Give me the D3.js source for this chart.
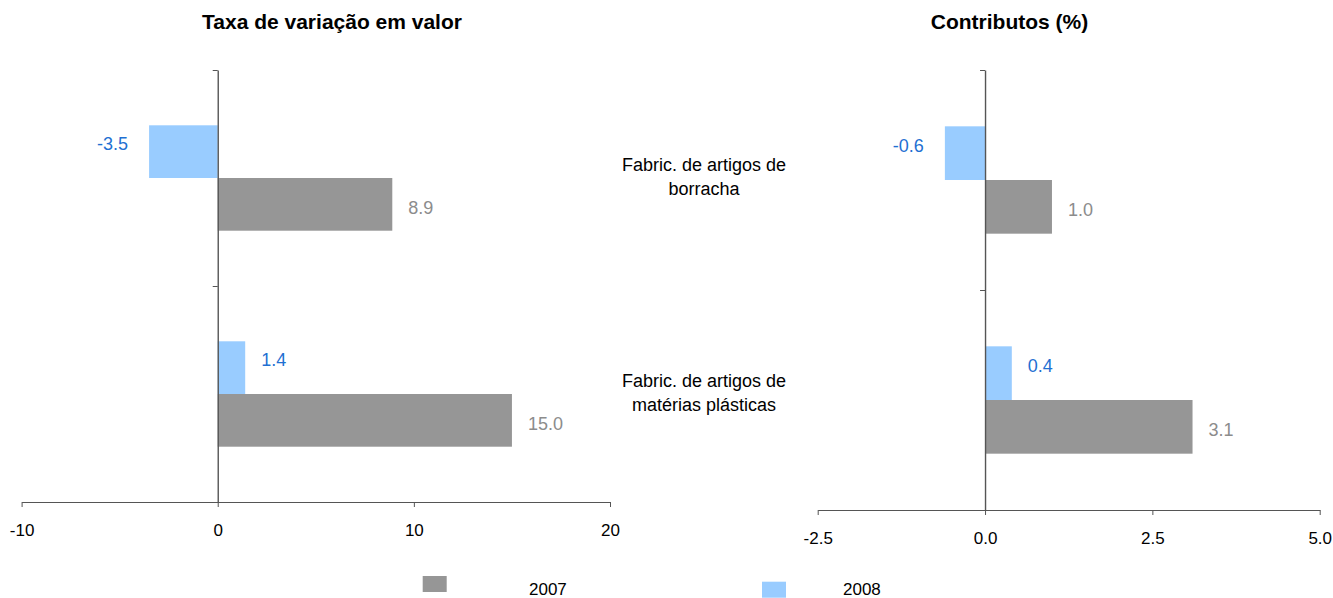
<!DOCTYPE html>
<html>
<head>
<meta charset="utf-8">
<script src="https://cdn.jsdelivr.net/npm/d3@7"></script>
<style>
  html, body { margin: 0; padding: 0; background: #fff; }
  svg { display: block; font-family: "Liberation Sans", Arial, sans-serif; }
</style>
</head>
<body>
<div id="chart"></div>
<script>
// Data
const categories = ['borracha', 'plasticas'];
const categoryLabels = [
  ['Fabric. de artigos de', 'borracha'],
  ['Fabric. de artigos de', 'matérias plásticas']
];
const seriesNames = ['2008', '2007'];
const variacao2007 = [8.9, 15.0];
const variacao2008 = [-3.5, 1.4];
const contributos2007 = [1.0, 3.1];
const contributos2008 = [-0.6, 0.4];
const variacaoTicks = [-10, 0, 10, 20];
const contributosTicks = [-2.5, 0, 2.5, 5];

const colors = { '2007': '#969696', '2008': '#99ccff' };
const labelColors = { '2007': '#8c8c8c', '2008': '#1f70d2' };

const width = 1333, height = 598;

// plain hyphen for negatives, like the original
const locale = d3.formatLocale({ decimal: '.', thousands: ',', grouping: [3], currency: ['', ''], minus: '-' });
const fmt1 = locale.format('.1f');
const fmt0 = locale.format('d');

const svg = d3.select('#chart')
  .append('svg')
  .attr('width', width)
  .attr('height', height);

function drawPanel(opts) {
  const { xDomain, xRange, yRange, ticks, tickFormat, values, title, titleX } = opts;

  const x = d3.scaleLinear().domain(xDomain).range(xRange);
  const y0 = d3.scaleBand().domain(categories).range(yRange).padding(0);
  const gap = y0.bandwidth() * 0.256;
  const y1 = d3.scaleBand().domain(seriesNames).range([gap, y0.bandwidth() - gap]);
  const yTicks = d3.scaleLinear().domain([0, categories.length]).range(yRange);

  const g = svg.append('g');

  // bars
  categories.forEach((cat, i) => {
    seriesNames.forEach(s => {
      const v = values[s][i];
      const yy = y0(cat) + y1(s);
      g.append('rect')
        .attr('x', x(Math.min(0, v)))
        .attr('y', yy)
        .attr('width', Math.abs(x(v) - x(0)))
        .attr('height', y1.bandwidth())
        .attr('fill', colors[s]);

      const off = s === '2008' ? -8 : 3;
      g.append('text')
        .attr('x', v < 0 ? x(v) - 21 : x(v) + 16)
        .attr('y', yy + y1.bandwidth() / 2 + off + 6.5)
        .attr('text-anchor', v < 0 ? 'end' : 'start')
        .style('font-size', '18px')
        .attr('fill', labelColors[s])
        .text(fmt1(v));
    });
  });

  // x axis
  const xAxis = g.append('g')
    .attr('transform', `translate(0,${yRange[1]})`)
    .attr('color', '#555')
    .call(d3.axisBottom(x).tickValues(ticks).tickFormat(tickFormat).tickSize(5).tickSizeOuter(0).tickPadding(17));
  xAxis.selectAll('text').attr('fill', '#000').style('font-size', '17px');
  xAxis.select('.domain').attr('stroke-width', 1.2);

  // y axis at zero
  const yAxis = g.append('g')
    .attr('transform', `translate(${x(0)},0)`)
    .attr('color', '#555')
    .call(d3.axisLeft(yTicks).ticks(categories.length).tickFormat('').tickSize(5).tickSizeOuter(0));
  yAxis.select('.domain').attr('stroke-width', 1.4);

  // title
  svg.append('text')
    .attr('x', titleX)
    .attr('y', 29)
    .attr('text-anchor', 'middle')
    .style('font-size', '21px')
    .style('font-weight', 'bold')
    .attr('fill', '#000')
    .text(title);

  return { y0 };
}

const left = drawPanel({
  xDomain: [-10, 20],
  xRange: [21.6, 610],
  yRange: [70, 502],
  ticks: variacaoTicks,
  tickFormat: fmt0,
  values: { '2007': variacao2007, '2008': variacao2008 },
  title: 'Taxa de variação em valor',
  titleX: 332
});

drawPanel({
  xDomain: [-2.5, 5],
  xRange: [817.7, 1319.7],
  yRange: [70, 510],
  ticks: contributosTicks,
  tickFormat: fmt1,
  values: { '2007': contributos2007, '2008': contributos2008 },
  title: 'Contributos (%)',
  titleX: 1009.5
});

// category labels between the panels
categories.forEach((cat, i) => {
  const cy = left.y0(cat) + left.y0.bandwidth() / 2;
  const t = svg.append('text')
    .attr('text-anchor', 'middle')
    .style('font-size', '18px')
    .attr('fill', '#000');
  categoryLabels[i].forEach((line, j) => {
    t.append('tspan')
      .attr('x', 704)
      .attr('y', cy - 7.3 + j * 24.3)
      .text(line);
  });
});

// legend
const legendItems = [
  { name: '2007', x: 422.7, y: 576, tx: 529 },
  { name: '2008', x: 762, y: 581.7, tx: 843 }
];
legendItems.forEach(d => {
  svg.append('rect')
    .attr('x', d.x).attr('y', d.y)
    .attr('width', 24).attr('height', 16)
    .attr('fill', colors[d.name]);
  svg.append('text')
    .attr('x', d.tx).attr('y', 595)
    .style('font-size', '17px')
    .attr('fill', '#000')
    .text(d.name);
});
</script>
</body>
</html>
